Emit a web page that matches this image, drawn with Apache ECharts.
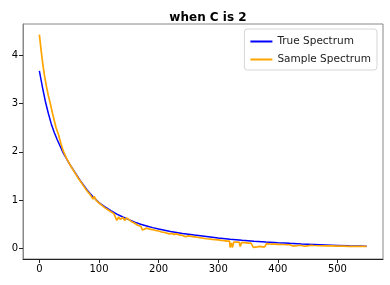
<!DOCTYPE html>
<html><head><meta charset="utf-8">
<script src="https://cdn.jsdelivr.net/npm/echarts@6/dist/echarts.min.js"></script>
<style>html,body{margin:0;padding:0;background:#fff}#c{width:390px;height:285px}</style>
</head><body><div id="c"></div>
<script>
const titleText = 'when C is 2';
const seriesNames = ['True Spectrum', 'Sample Spectrum'];
const xTicks = [0, 100, 200, 300, 400, 500];
const yTicks = [0, 1, 2, 3, 4];

const trueX = [0,5,10,15,20,25,30,40,50,60,70,80,90,100,110,120,130,140,150,160,170,180,190,200,220,240,260,280,300,320,340,360,380,400,420,440,460,480,500,520,549];
const trueY = [3.68,3.35,3.05,2.80,2.58,2.40,2.25,1.98,1.76,1.57,1.38,1.21,1.07,0.95,0.86,0.78,0.71,0.65,0.595,0.545,0.50,0.465,0.43,0.40,0.35,0.31,0.275,0.245,0.215,0.19,0.168,0.148,0.132,0.117,0.104,0.092,0.082,0.072,0.062,0.053,0.042];

const sampleX = [0,3,6,9,12,15,19,22,25,28,32,36,40,45,50,55,60,65,70,75,80,85,88,90,92,95,100,105,110,115,120,125,128,130,133,136,140,143,146,150,152,155,160,165,170,173,176,180,185,190,195,200,205,210,213,218,222,226,230,235,240,245,250,255,260,265,270,275,280,285,290,295,300,305,310,315,319,320,322,324,326,330,335,337,339,345,350,355,358,359,362,366,370,374,378,381,385,390,395,400,405,410,415,420,421,425,430,432,437,440,445,450,455,460,470,480,490,500,510,520,530,540,549];
const sampleY = [4.43,4.10,3.80,3.55,3.35,3.17,2.97,2.80,2.65,2.50,2.36,2.18,2.02,1.88,1.76,1.66,1.56,1.46,1.37,1.28,1.19,1.12,1.10,1.02,1.08,1.00,0.94,0.89,0.84,0.80,0.76,0.72,0.70,0.58,0.65,0.60,0.64,0.58,0.63,0.60,0.57,0.55,0.52,0.48,0.46,0.38,0.40,0.42,0.40,0.39,0.37,0.36,0.34,0.33,0.29,0.30,0.31,0.29,0.30,0.28,0.27,0.24,0.26,0.25,0.24,0.23,0.22,0.21,0.20,0.195,0.185,0.18,0.175,0.165,0.16,0.15,0.15,0.02,0.11,0.02,0.13,0.13,0.13,0.04,0.12,0.12,0.11,0.11,0.10,0.02,0.03,0.03,0.04,0.03,0.03,0.10,0.095,0.09,0.09,0.085,0.08,0.08,0.075,0.075,0.04,0.05,0.05,0.065,0.065,0.045,0.045,0.05,0.065,0.06,0.055,0.05,0.05,0.045,0.045,0.04,0.04,0.04,0.04];

const trueData = trueX.map((x, i) => [x, trueY[i]]);
const sampleData = sampleX.map((x, i) => [x, sampleY[i]]);

const font = 'DejaVu Sans';
const chart = echarts.init(document.getElementById('c'), null, {renderer: 'canvas'});
chart.setOption({
  animation: false,
  backgroundColor: '#fff',
  title: {
    text: titleText, left: 203, top: 7, textAlign: 'center',
    textStyle: {fontFamily: font, fontSize: 12, fontWeight: 'bold', color: '#000'}
  },
  legend: {
    orient: 'vertical', right: 13, top: 29,
    data: seriesNames,
    icon: 'rect', itemWidth: 22, itemHeight: 2, itemGap: 7,
    padding: [7, 6, 5, 6],
    borderColor: '#d6d6d6', borderWidth: 1, borderRadius: 3,
    textStyle: {fontFamily: font, fontSize: 10.5, color: '#222'}
  },
  grid: {left: 23, right: 7, top: 24, bottom: 26, show: true, borderColor: '#888', borderWidth: 1, backgroundColor: '#fff'},
  xAxis: {
    type: 'value', min: -27.45, max: 576.45,
    splitLine: {show: false},
    axisLine: {show: true, onZero: false, lineStyle: {color: '#222', width: 1}},
    axisTick: {show: true, length: 4, customValues: xTicks, lineStyle: {color: '#222'}},
    axisLabel: {customValues: xTicks, fontFamily: font, fontSize: 10, color: '#000', margin: 5}
  },
  yAxis: {
    type: 'value', min: -0.22, max: 4.65,
    splitLine: {show: false},
    axisLine: {show: true, onZero: false, lineStyle: {color: '#888', width: 1}},
    axisTick: {show: true, length: 4, customValues: yTicks, lineStyle: {color: '#222'}},
    axisLabel: {customValues: yTicks, fontFamily: font, fontSize: 10, color: '#000', margin: 5}
  },
  series: [
    {name: seriesNames[0], type: 'line', data: trueData, showSymbol: false, symbol: 'none',
     lineStyle: {color: '#0000ff', width: 1.5}, itemStyle: {color: '#0000ff'}, z: 2},
    {name: seriesNames[1], type: 'line', data: sampleData, showSymbol: false, symbol: 'none',
     lineStyle: {color: '#ffa500', width: 1.7}, itemStyle: {color: '#ffa500'}, z: 3}
  ]
});
</script></body></html>
